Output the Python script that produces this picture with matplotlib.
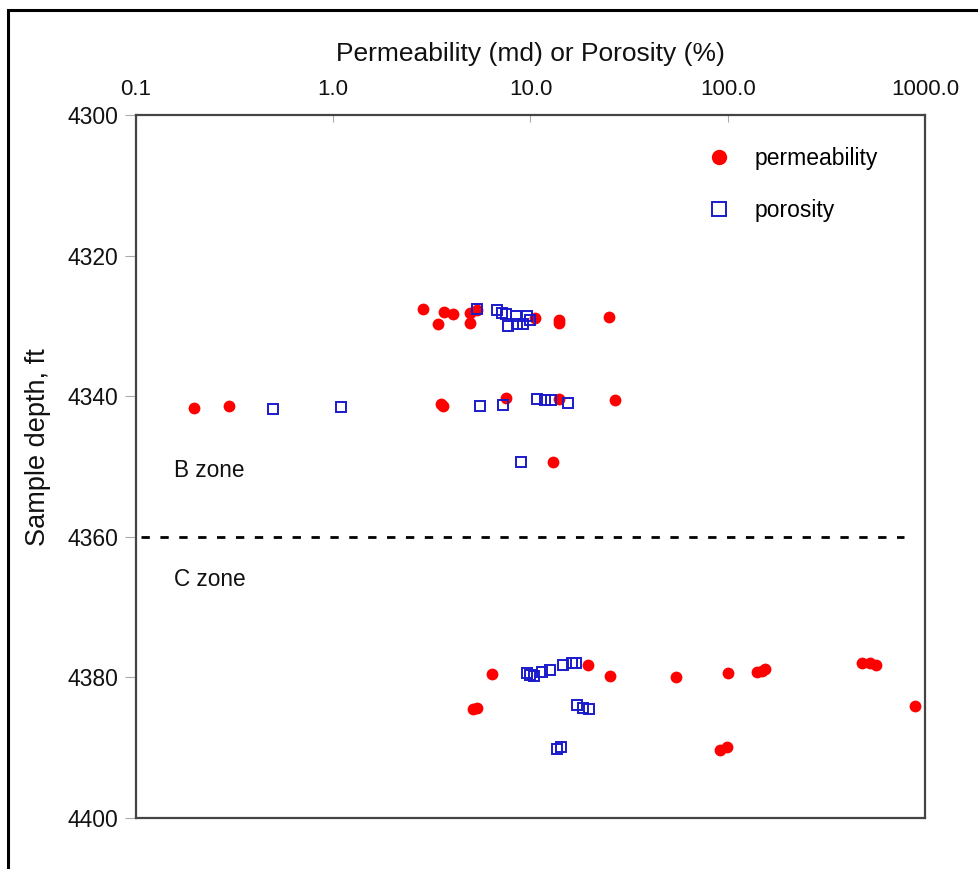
import matplotlib.pyplot as plt
from matplotlib.patches import Rectangle

plt.rcParams['font.family'] = ['Liberation Sans', 'DejaVu Sans']

# permeability (md) vs depth (ft)
perm_vals = [2.86, 3.66, 4.06, 3.39, 4.94, 4.94, 5.34, 10.5, 14.0, 14.0, 25.1,
             0.197, 0.297, 3.50, 3.61, 7.51, 13.95, 26.8,
             13.05,
             6.36, 5.13, 5.36, 19.6, 25.3, 54.7, 100.0, 140.0, 149.0, 154.5,
             478.0, 526.0, 565.0, 890.0, 91.4, 98.8]
perm_depth = [4327.6, 4328.0, 4328.3, 4329.8, 4328.2, 4329.6, 4327.7, 4328.9, 4329.1, 4329.6, 4328.7,
              4341.7, 4341.4, 4341.1, 4341.4, 4340.3, 4340.4, 4340.6,
              4349.4,
              4379.5, 4384.5, 4384.4, 4378.3, 4379.8, 4379.9, 4379.4, 4379.3, 4379.1, 4378.8,
              4378.0, 4377.9, 4378.2, 4384.0, 4390.3, 4389.9]

# porosity (%) vs depth (ft)
poro_vals = [5.38, 6.74, 7.15, 7.51, 8.44, 9.57, 9.94, 7.72, 8.51, 9.19,
             0.497, 1.09, 5.55, 7.23, 10.75, 11.85, 12.66, 15.55,
             8.95,
             9.63, 9.94, 10.4, 11.4, 12.56, 14.56, 16.18, 17.0,
             17.15, 18.4, 19.9, 13.7, 14.2]
poro_depth = [4327.6, 4327.8, 4328.1, 4328.3, 4328.6, 4328.6, 4329.1, 4330.0, 4329.7, 4329.7,
              4341.8, 4341.6, 4341.4, 4341.2, 4340.4, 4340.5, 4340.6, 4341.0,
              4349.4,
              4379.4, 4379.7, 4379.8, 4379.3, 4379.0, 4378.3, 4378.0, 4377.9,
              4383.9, 4384.3, 4384.5, 4390.2, 4389.9]

x_ticks = [0.1, 1.0, 10.0, 100.0, 1000.0]
x_ticklabels = ['0.1', '1.0', '10.0', '100.0', '1000.0']
y_ticks = [4300, 4320, 4340, 4360, 4380, 4400]
boundary_depth = 4360

fig = plt.figure(figsize=(9.79, 8.69), dpi=100)
ax = fig.add_axes([136 / 979, 1 - 818 / 869, (925 - 136) / 979, (818 - 115) / 869])

ax.plot(perm_vals, perm_depth, 'o', color='#ff0000', markersize=8.5, markeredgewidth=0,
        label='permeability', zorder=3)
ax.plot(poro_vals, poro_depth, 's', markerfacecolor='none', markeredgecolor='#1a1acc',
        markersize=7.5, markeredgewidth=1.4, label='porosity', zorder=4)

ax.plot([0.106, 780], [boundary_depth, boundary_depth], color='black', lw=2,
        dashes=(3, 3.8))

ax.set_xscale('log')
ax.set_xlim(0.1, 1000)
ax.set_ylim(4400, 4300)
ax.xaxis.set_ticks_position('top')
ax.xaxis.set_label_position('top')
ax.set_xticks(x_ticks)
ax.set_xticklabels(x_ticklabels)
ax.minorticks_off()
ax.set_yticks(y_ticks)
ax.tick_params(axis='x', direction='in', length=5, color='#aaaaaa', labelsize=16, pad=11)
ax.tick_params(axis='y', direction='out', length=8, color='#aaaaaa', labelsize=16.5, pad=5)
for lbl in ax.get_xticklabels() + ax.get_yticklabels():
    lbl.set_color('#111111')

ax.set_xlabel('Permeability (md) or Porosity (%)', fontsize=19, labelpad=13, color='#111111')
ax.set_ylabel('Sample depth, ft', fontsize=19.5, color='#111111')
ax.yaxis.set_label_coords(-0.108, 0.528)

for s in ax.spines.values():
    s.set_color('#444444')
    s.set_linewidth(1.6)

ax.text(0.156, 4350.6, 'B zone', fontsize=16.3, va='center', ha='left', color='#111111')
ax.text(0.156, 4366.1, 'C zone', fontsize=16.3, va='center', ha='left', color='#111111')

ax.legend(loc='upper right', bbox_to_anchor=(0.94, 0.955), frameon=False, fontsize=16.5,
          handlelength=1.0, handletextpad=1.05, labelspacing=1.3, borderaxespad=0,
          borderpad=0, markerscale=1.3)

# outer frame
fig.add_artist(Rectangle((8 / 979, -0.1), 1.2, 1 - 10 / 869 + 0.1, transform=fig.transFigure,
                         fill=False, edgecolor='black', linewidth=2.2))

fig.savefig('out.png', dpi=100)
